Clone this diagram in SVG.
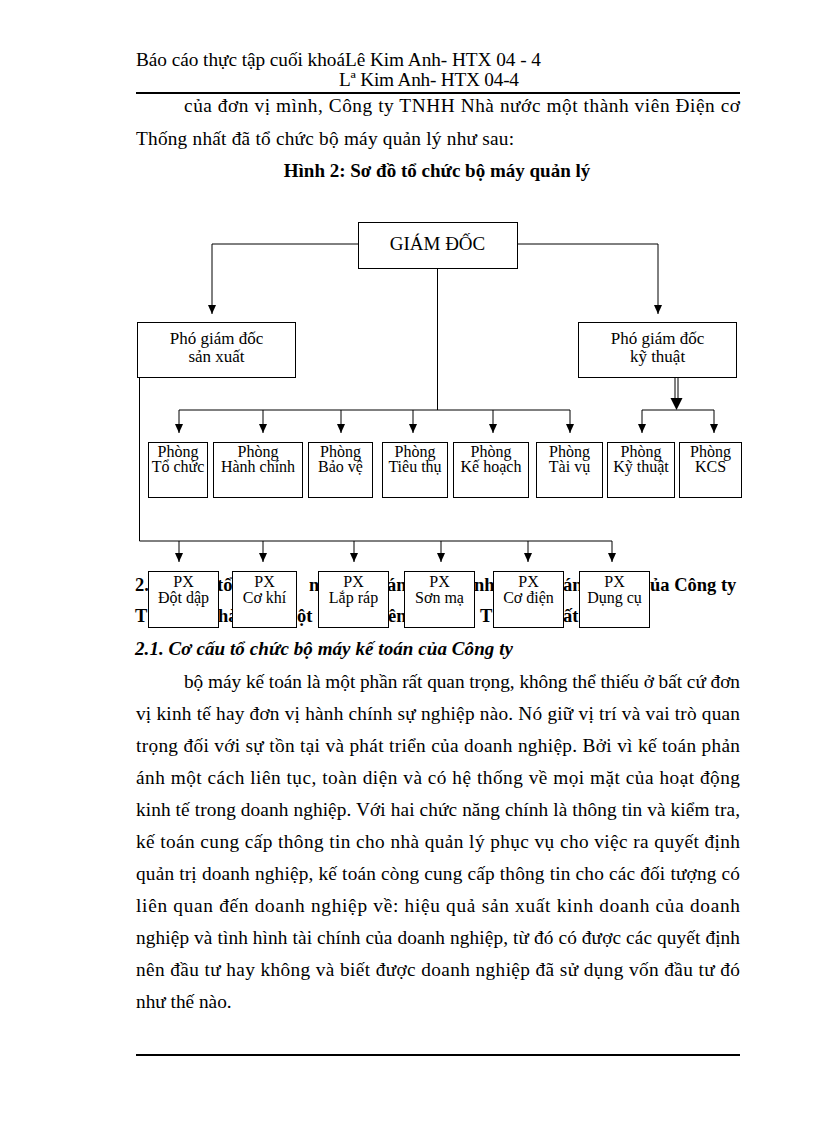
<svg xmlns="http://www.w3.org/2000/svg" width="816" height="1123" viewBox="0 0 816 1123">
<defs>
<style>
.t{font-family:"Liberation Serif","Times New Roman",serif;fill:#000}
.b{font-size:19.3px}
.h{font-size:19px;font-weight:bold}
.n{font-size:17px;text-anchor:middle}
.s{font-size:16px;text-anchor:middle}
.box rect{fill:#fff;stroke:#000;stroke-width:1}
.c{fill:none;stroke:#000;stroke-width:1}
</style>
<marker id="ar" markerUnits="userSpaceOnUse" markerWidth="8" markerHeight="9" refX="4" refY="9" orient="0" viewBox="0 0 8 9"><path d="M0,0 L8,0 L4,9 z" fill="#000"/></marker>
</defs>
<rect width="816" height="1123" fill="#fff"/>

<!-- page header -->
<text class="t b" x="136" y="66" textLength="405" lengthAdjust="spacing">Báo cáo thực tập cuối khoáLê Kim  Anh- HTX 04 - 4</text>
<text class="t b" x="339" y="86" textLength="180" lengthAdjust="spacing">Lª Kim  Anh- HTX 04-4</text>
<rect x="136" y="92" width="604" height="2" fill="#000"/>

<text class="t b" x="184" y="112" textLength="556" lengthAdjust="spacing">của đơn vị mình, Công ty TNHH Nhà nước một thành viên Điện cơ</text>
<text class="t b" x="136" y="145" textLength="378" lengthAdjust="spacing">Thống nhất đã tổ chức bộ máy quản lý như sau:</text>
<text class="t h" x="437" y="177" text-anchor="middle">Hình 2: Sơ đồ tổ chức bộ máy quản lý</text>

<!-- heading partly hidden behind PX boxes -->
<g class="t" font-size="18.5" font-weight="bold">
<text x="135" y="591">2.</text>
<text x="217" y="591">tổ</text>
<text x="309" y="591">n</text>
<text x="387" y="591">án</text>
<text x="474" y="591">nh</text>
<text x="563" y="591">án</text>
<text x="650" y="591">ủa Công ty</text>
<text x="135" y="622">T</text>
<text x="218" y="622">hà</text>
<text x="297" y="622">ột</text>
<text x="388" y="622">ên</text>
<text x="480" y="622">T</text>
<text x="563" y="622">ất</text>
</g>

<!-- connectors -->
<g id="connectors" class="c">
<path d="M358,244 H212 V314" marker-end="url(#ar)"/>
<path d="M517,244 H658 V314" marker-end="url(#ar)"/>
<path d="M437.5,269 V410"/>
<path d="M179,410 H570"/>
<path d="M179,410 V433" marker-end="url(#ar)"/>
<path d="M263,410 V433" marker-end="url(#ar)"/>
<path d="M341,410 V433" marker-end="url(#ar)"/>
<path d="M413,410 V433" marker-end="url(#ar)"/>
<path d="M493,410 V433" marker-end="url(#ar)"/>
<path d="M570,410 V433" marker-end="url(#ar)"/>
<path d="M675,378 V399"/>
<path d="M678,378 V399"/>
<polygon points="670.5,398 682.5,398 676.5,410" fill="#000" stroke="none"/>
<path d="M642,410 H714"/>
<path d="M642,410 V433" marker-end="url(#ar)"/>
<path d="M714,410 V433" marker-end="url(#ar)"/>
<path d="M139.5,378 V541 H612"/>
<path d="M179,541 V562" marker-end="url(#ar)"/>
<path d="M263,541 V562" marker-end="url(#ar)"/>
<path d="M354,541 V562" marker-end="url(#ar)"/>
<path d="M441,541 V562" marker-end="url(#ar)"/>
<path d="M528,541 V562" marker-end="url(#ar)"/>
<path d="M612,541 V562" marker-end="url(#ar)"/>
</g>

<!-- nodes -->
<g id="giam-doc" class="box"><rect x="358.5" y="222.5" width="159" height="46"/><text class="t" x="437.5" y="250" font-size="19" text-anchor="middle">GIÁM ĐỐC</text></g>
<g id="pgd-sx" class="box"><rect x="137.5" y="322.5" width="158" height="55"/><text class="t n" x="216.5" y="344">Phó giám đốc</text><text class="t n" x="216.5" y="362">sản xuất</text></g>
<g id="pgd-kt" class="box"><rect x="578.5" y="322.5" width="158" height="55"/><text class="t n" x="657.5" y="344">Phó giám đốc</text><text class="t n" x="657.5" y="362">kỹ thuật</text></g>

<g id="p-tochuc" class="box"><rect x="148.5" y="442.5" width="59" height="55"/><text class="t s" x="178" y="457">Phòng</text><text class="t s" x="178" y="472">Tổ chức</text></g>
<g id="p-hanhchinh" class="box"><rect x="213.5" y="442.5" width="89" height="55"/><text class="t s" x="258" y="457">Phòng</text><text class="t s" x="258" y="472">Hành chính</text></g>
<g id="p-baove" class="box"><rect x="308.5" y="442.5" width="64" height="55"/><text class="t s" x="340.5" y="457">Phòng</text><text class="t s" x="340.5" y="472">Bảo vệ</text></g>
<g id="p-tieuthu" class="box"><rect x="382.5" y="442.5" width="65" height="55"/><text class="t s" x="415" y="457">Phòng</text><text class="t s" x="415" y="472">Tiêu thụ</text></g>
<g id="p-kehoach" class="box"><rect x="453.5" y="442.5" width="75" height="55"/><text class="t s" x="491" y="457">Phòng</text><text class="t s" x="491" y="472">Kế hoạch</text></g>
<g id="p-taivu" class="box"><rect x="536.5" y="442.5" width="66" height="55"/><text class="t s" x="569.5" y="457">Phòng</text><text class="t s" x="569.5" y="472">Tài vụ</text></g>
<g id="p-kythuat" class="box"><rect x="607.5" y="442.5" width="67" height="55"/><text class="t s" x="641" y="457">Phòng</text><text class="t s" x="641" y="472">Kỹ thuật</text></g>
<g id="p-kcs" class="box"><rect x="679.5" y="442.5" width="62" height="55"/><text class="t s" x="710.5" y="457">Phòng</text><text class="t s" x="710.5" y="472">KCS</text></g>

<g id="px-dotdap" class="box"><rect x="148.5" y="571.5" width="70" height="56"/><text class="t s" x="183.5" y="587">PX</text><text class="t s" x="183.5" y="603">Đột dập</text></g>
<g id="px-cokhi" class="box"><rect x="232.5" y="571.5" width="64" height="56"/><text class="t s" x="264.5" y="587">PX</text><text class="t s" x="264.5" y="603">Cơ khí</text></g>
<g id="px-laprap" class="box"><rect x="318.5" y="571.5" width="70" height="56"/><text class="t s" x="353.5" y="587">PX</text><text class="t s" x="353.5" y="603">Lắp ráp</text></g>
<g id="px-sonma" class="box"><rect x="404.5" y="571.5" width="70" height="56"/><text class="t s" x="439.5" y="587">PX</text><text class="t s" x="439.5" y="603">Sơn mạ</text></g>
<g id="px-codien" class="box"><rect x="493.5" y="571.5" width="70" height="56"/><text class="t s" x="528.5" y="587">PX</text><text class="t s" x="528.5" y="603">Cơ điện</text></g>
<g id="px-dungcu" class="box"><rect x="579.5" y="571.5" width="70" height="56"/><text class="t s" x="614.5" y="587">PX</text><text class="t s" x="614.5" y="603">Dụng cụ</text></g>

<!-- section text -->
<text class="t h" x="135" y="655" font-style="italic" textLength="378" lengthAdjust="spacing">2.1. Cơ cấu tổ chức bộ máy kế toán của Công ty</text>
<g class="t b">
<text x="184" y="688" textLength="556" lengthAdjust="spacing">bộ máy kế toán là một phần rất quan trọng, không thể thiếu ở bất cứ đơn</text>
<text x="136" y="720" textLength="604" lengthAdjust="spacing">vị kinh tế hay đơn vị hành chính sự nghiệp nào. Nó giữ vị trí và vai trò quan</text>
<text x="136" y="752" textLength="604" lengthAdjust="spacing">trọng đối với sự tồn tại và phát triển của doanh nghiệp. Bởi vì kế toán phản</text>
<text x="136" y="784" textLength="604" lengthAdjust="spacing">ánh một cách liên tục, toàn diện và có hệ thống về mọi mặt của hoạt động</text>
<text x="136" y="816" textLength="604" lengthAdjust="spacing">kinh tế trong doanh nghiệp. Với hai chức năng chính là thông tin và kiểm tra,</text>
<text x="136" y="848" textLength="604" lengthAdjust="spacing">kế toán cung cấp thông tin cho nhà quản lý phục vụ cho việc ra quyết định</text>
<text x="136" y="880" textLength="604" lengthAdjust="spacing">quản trị doanh nghiệp, kế toán còng cung cấp thông tin cho các đối tượng có</text>
<text x="136" y="912" textLength="604" lengthAdjust="spacing">liên quan đến doanh nghiệp về: hiệu quả sản xuất kinh doanh của doanh</text>
<text x="136" y="944" textLength="604" lengthAdjust="spacing">nghiệp và tình hình tài chính của doanh nghiệp, từ đó có được các quyết định</text>
<text x="136" y="976" textLength="604" lengthAdjust="spacing">nên đầu tư hay không và biết được doanh nghiệp đã sử dụng vốn đầu tư đó</text>
<text x="136" y="1008">như thế nào.</text>
</g>
<rect x="136" y="1054" width="604" height="2" fill="#000"/>
</svg>
